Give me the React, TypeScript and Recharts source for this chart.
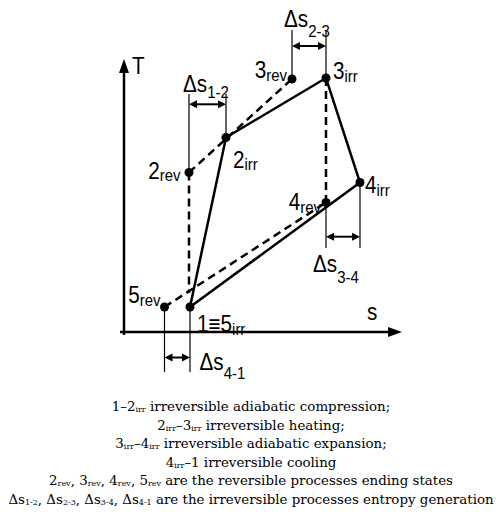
import React from "react";
import {
	ComposedChart,
	Line,
	XAxis,
	YAxis,
	ReferenceLine,
	ReferenceDot,
} from "recharts";

// state points (arbitrary units)
const stateNames = ["1", "2irr", "3irr", "4irr", "2rev", "3rev", "4rev", "5rev"];
const stateS = [6.6, 10.2, 20.2, 23.6, 6.5, 16.8, 20.2, 4.05];
const stateT = [2.5, 19.45, 25.4, 14.95, 15.95, 25.3, 12.95, 2.5];

// irreversible cycle 1-2irr-3irr-4irr-1
const cycleOrder = ["1", "2irr", "3irr", "4irr", "1"];
// reversible process lines (dashed)
const reversibleFrom = ["2rev", "5rev"];
const reversibleTo = ["3rev", "4rev"];
// dashed verticals: from a state straight down to a temperature
const dropFrom = ["2rev", "3irr"];
const dropToT = [3.9, 12.95];

// entropy generation dimensions
const deltaNames = ["1-2", "2-3", "3-4", "4-1"];
const deltaFrom = ["2rev", "3rev", "4rev", "5rev"];
const deltaTo = ["2irr", "3irr", "4irr", "1"];
const deltaArrowT = [22.77, 28.6, 9.53, -2.55];
const deltaExtT = [23.8, 30.2, 8.4, -4.0];

// axes
const sAxisEnd = 27.8;
const tAxisEnd = 27.3;

const pt = (name: string) => {
	const i = stateNames.indexOf(name);
	return { s: stateS[i], T: stateT[i] };
};

const cycleData = cycleOrder.map(pt);

// label layout (px), not data
const stateLabels: Record<string, { main: string; sub: string; dx: number; dy: number; anchor: string }> = {
	"1": { main: "1\u22615", sub: "irr", dx: 7, dy: 25, anchor: "start" },
	"2irr": { main: "2", sub: "irr", dx: 7, dy: 30, anchor: "start" },
	"3irr": { main: "3", sub: "irr", dx: 7, dy: 1, anchor: "start" },
	"4irr": { main: "4", sub: "irr", dx: 5, dy: 10.5, anchor: "start" },
	"2rev": { main: "2", sub: "rev", dx: -8.5, dy: 6, anchor: "end" },
	"3rev": { main: "3", sub: "rev", dx: -5, dy: -1, anchor: "end" },
	"4rev": { main: "4", sub: "rev", dx: -5, dy: 7.5, anchor: "end" },
	"5rev": { main: "5", sub: "rev", dx: -4, dy: -4, anchor: "end" },
};
const deltaLabels = [
	{ dx: -6, dy: -12, sub: 6 },
	{ dx: -8, dy: -19, sub: 10 },
	{ dx: -13, dy: 35, sub: 11 },
	{ dx: 35, dy: 12.5, sub: 9 },
];

const FONT = "'Liberation Sans', Arial, sans-serif";
const MAIN = 23.5;
const SUB = 17;
const NARROW = 0.88;

// condensed text, like the Arial Narrow of the original figure
const Txt = ({ x, y, anchor, children }: any) => (
	<text
		transform={`translate(${x},${y}) scale(${NARROW},1)`}
		textAnchor={anchor || "start"}
		fontFamily={FONT}
		fontSize={MAIN}
	>
		{children}
	</text>
);

const Arrow = ({ x1, y1, x2, y2, len, half, both, sw }: any) => {
	const dx = x2 - x1;
	const dy = y2 - y1;
	const d = Math.hypot(dx, dy) || 1;
	const ux = dx / d;
	const uy = dy / d;
	const head = (tx: number, ty: number, sx: number, sy: number) =>
		`${tx},${ty} ${tx - sx * len - sy * half},${ty - sy * len + sx * half} ${tx - sx * len + sy * half},${ty - sy * len - sx * half}`;
	return (
		<g>
			<line
				x1={both ? x1 + ux * len * 0.8 : x1}
				y1={both ? y1 + uy * len * 0.8 : y1}
				x2={x2 - ux * len * 0.8}
				y2={y2 - uy * len * 0.8}
				stroke="#000"
				strokeWidth={sw}
			/>
			<polygon points={head(x2, y2, ux, uy)} fill="#000" />
			{both && <polygon points={head(x1, y1, -ux, -uy)} fill="#000" />}
		</g>
	);
};

export default function App() {
	return (
		<div style={{ position: "absolute", left: 0, top: 0, width: 502, height: 526, background: "#fff" }}>
			<ComposedChart
				width={502}
				height={392}
				margin={{ top: 12, right: 98, bottom: 0, left: 104 }}
			>
				<XAxis dataKey="s" type="number" domain={[-2, 28]} allowDataOverflow hide />
				<YAxis dataKey="T" type="number" domain={[-6, 32]} allowDataOverflow hide />

				{/* coordinate axes */}
				<ReferenceLine
					segment={[{ x: 0, y: -0.3 }, { x: 0, y: tAxisEnd }]}
					ifOverflow="visible"
					shape={(p: any) => (
						<g>
							<Arrow {...p} len={14} half={5} sw={2.5} />
							<Txt x={p.x2 + 8} y={p.y2 + 15}>T</Txt>
						</g>
					)}
				/>
				<ReferenceLine
					segment={[{ x: -0.4, y: 0 }, { x: sAxisEnd, y: 0 }]}
					ifOverflow="visible"
					shape={(p: any) => (
						<g>
							<Arrow {...p} len={14} half={5} sw={2.5} />
							<Txt x={p.x2 - 35} y={p.y2 - 12}>s</Txt>
						</g>
					)}
				/>

				{/* extension lines of the dimensions */}
				{deltaNames.map((n, i) =>
					[deltaFrom[i], deltaTo[i]].map((name) => (
						<ReferenceLine
							key={n + name}
							segment={[{ x: pt(name).s, y: pt(name).T }, { x: pt(name).s, y: deltaExtT[i] }]}
							stroke="#000"
							strokeWidth={1.2}
							ifOverflow="visible"
						/>
					))
				)}

				{/* dashed verticals */}
				{dropFrom.map((name, i) => (
					<ReferenceLine
						key={"drop" + name}
						segment={[{ x: pt(name).s, y: pt(name).T }, { x: pt(name).s, y: dropToT[i] }]}
						stroke="#000"
						strokeWidth={2.5}
						strokeDasharray="8 5"
						ifOverflow="visible"
					/>
				))}

				{/* reversible processes */}
				{reversibleFrom.map((name, i) => (
					<Line
						key={"rev" + name}
						data={[pt(name), pt(reversibleTo[i])]}
						dataKey="T"
						type="linear"
						stroke="#000"
						strokeWidth={2.5}
						strokeDasharray="8 5"
						dot={false}
						activeDot={false}
						isAnimationActive={false}
					/>
				))}

				{/* irreversible cycle */}
				<Line
					data={cycleData}
					dataKey="T"
					type="linear"
					stroke="#000"
					strokeWidth={2.5}
					dot={false}
					activeDot={false}
					isAnimationActive={false}
				/>

				{/* entropy generation arrows */}
				{deltaNames.map((n, i) => {
					const lab = deltaLabels[i];
					return (
						<ReferenceLine
							key={"d" + n}
							segment={[{ x: pt(deltaFrom[i]).s, y: deltaArrowT[i] }, { x: pt(deltaTo[i]).s, y: deltaArrowT[i] }]}
							ifOverflow="visible"
							shape={(p: any) => (
								<g>
									<Arrow {...p} len={8} half={4} sw={2} both />
									<Txt x={p.x1 + lab.dx} y={p.y1 + lab.dy}>
										{"\u0394s"}
										<tspan fontSize={SUB} dy={lab.sub}>{n}</tspan>
									</Txt>
								</g>
							)}
						/>
					);
				})}

				{/* state points */}
				{stateNames.map((name) => {
					const lab = stateLabels[name];
					return (
						<ReferenceDot
							key={name}
							x={pt(name).s}
							y={pt(name).T}
							r={4.5}
							ifOverflow="visible"
							shape={(p: any) => (
								<g>
									<circle cx={p.cx} cy={p.cy} r={4.5} fill="#000" />
									<Txt x={p.cx + lab.dx} y={p.cy + lab.dy} anchor={lab.anchor}>
										{lab.main}
										<tspan fontSize={SUB} dy={2.5}>{lab.sub}</tspan>
									</Txt>
								</g>
							)}
						/>
					);
				})}
			</ComposedChart>
			<Caption />
		</div>
	);
}

const sub = (t: string) => (
	<span style={{ fontSize: 8, lineHeight: 1, position: "relative", top: 1 }}>{t}</span>
);

function Caption() {
	return (
		<div
			style={{
				position: "absolute",
				left: 0,
				top: 398,
				width: 502,
				textAlign: "center",
				fontFamily: "'DejaVu Serif', serif",
				fontSize: 13.4,
				lineHeight: "18.5px",
				whiteSpace: "nowrap",
				color: "#000",
			}}
		>
			<div>1–2{sub("irr")} irreversible adiabatic compression;</div>
			<div>2{sub("irr")}–3{sub("irr")} irreversible heating;</div>
			<div>3{sub("irr")}–4{sub("irr")} irreversible adiabatic expansion;</div>
			<div>4{sub("irr")}–1 irreversible cooling</div>
			<div>
				2{sub("rev")}, 3{sub("rev")}, 4{sub("rev")}, 5{sub("rev")} are the reversible processes ending states
			</div>
			<div>
				Δs{sub("1-2")}, Δs{sub("2-3")}, Δs{sub("3-4")}, Δs{sub("4-1")} are the irreversible processes entropy generation
			</div>
		</div>
	);
}
